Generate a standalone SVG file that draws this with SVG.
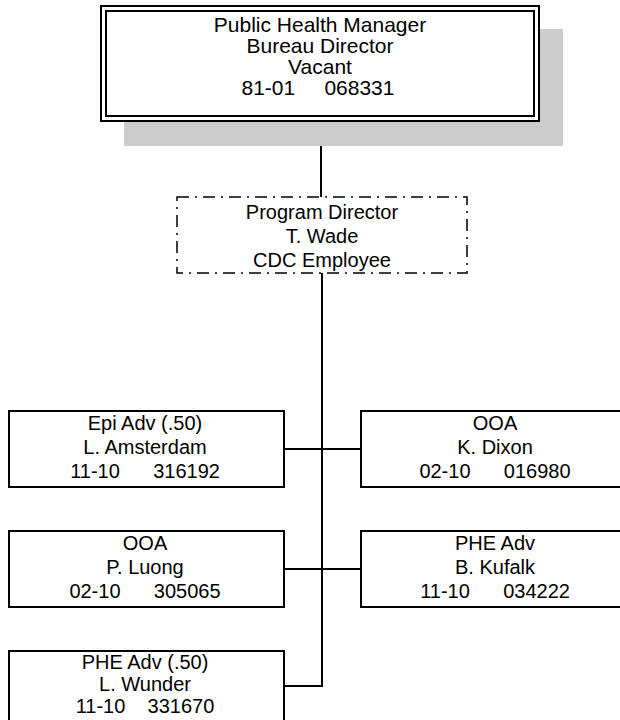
<svg xmlns="http://www.w3.org/2000/svg" width="620" height="720" viewBox="0 0 620 720">
<style>
text{font-family:"Liberation Sans",Arial,sans-serif;font-size:20px;fill:#000;text-anchor:middle;white-space:pre}
.big{font-size:21px}
.box{fill:#fff;stroke:#000;stroke-width:2}
.line{fill:none;stroke:#000;stroke-width:2}
</style>
<rect width="620" height="720" fill="#fff"/>
<g id="connectors">
<line class="line" x1="321" y1="146" x2="321" y2="197"/>
<polyline class="line" points="322,273 322,686 284,686"/>
<line class="line" x1="284" y1="449" x2="361" y2="449"/>
<line class="line" x1="284" y1="569" x2="361" y2="569"/>
</g>
<g id="bureau-director">
<rect x="124" y="29" width="439" height="117" fill="#cccccc"/>
<rect class="box" x="101" y="6" width="438" height="115"/>
<rect x="106" y="11" width="428" height="105" fill="none" stroke="#000" stroke-width="2"/>
<text class="big" x="320" y="32">Public Health Manager</text>
<text class="big" x="320" y="53">Bureau Director</text>
<text class="big" x="320" y="74">Vacant</text>
<text class="big" x="318" y="95">81-01     068331</text>
</g>
<g id="program-director">
<rect x="177" y="197" width="290" height="76" fill="#fff" stroke="#000" stroke-width="1.5" stroke-dasharray="12 6 2 6"/>
<text x="322" y="219">Program Director</text>
<text x="322" y="243">T. Wade</text>
<text x="322" y="267">CDC Employee</text>
</g>
<g id="epi-adv">
<rect class="box" x="9" y="411" width="275" height="76"/>
<text x="145" y="430">Epi Adv (.50)</text>
<text x="145" y="454">L. Amsterdam</text>
<text x="145" y="478">11-10      316192</text>
</g>
<g id="ooa-dixon">
<rect class="box" x="361" y="411" width="275" height="76"/>
<text x="495" y="430">OOA</text>
<text x="495" y="454">K. Dixon</text>
<text x="495" y="478">02-10      016980</text>
</g>
<g id="ooa-luong">
<rect class="box" x="9" y="531" width="275" height="76"/>
<text x="145" y="550">OOA</text>
<text x="145" y="574">P. Luong</text>
<text x="145" y="598">02-10      305065</text>
</g>
<g id="phe-kufalk">
<rect class="box" x="361" y="531" width="275" height="76"/>
<text x="495" y="550">PHE Adv</text>
<text x="495" y="574">B. Kufalk</text>
<text x="495" y="598">11-10      034222</text>
</g>
<g id="phe-wunder">
<rect class="box" x="9" y="651" width="275" height="76"/>
<text x="145" y="669">PHE Adv (.50)</text>
<text x="145" y="691">L. Wunder</text>
<text x="145" y="713">11-10    331670</text>
</g>
</svg>
